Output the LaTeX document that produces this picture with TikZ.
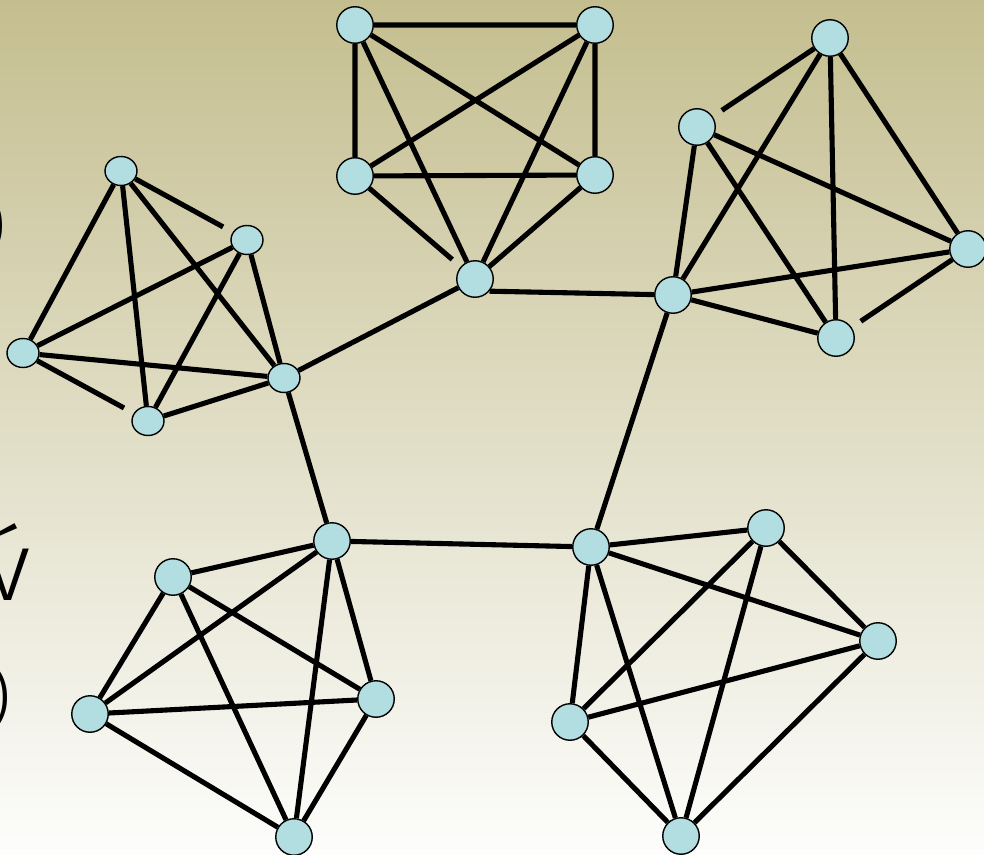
\documentclass[tikz,border=0pt]{standalone}
\usepackage{fontspec}
\usepackage{tikz}
\usetikzlibrary{shapes.geometric, positioning, calc}

\newfontfamily\scrapfont{Fira Sans}[UprightFont=* Light]

\definecolor{nodeblue}{RGB}{178,222,226}
\definecolor{bgtop}{RGB}{196,190,143}
\definecolor{bgmid}{RGB}{228,225,205}
\definecolor{bgbot}{RGB}{253,253,252}

\begin{document}
\begin{tikzpicture}[
    x=0.02cm, y=-0.02cm,
    vertex/.style={circle, draw, line width=0.8pt, fill=nodeblue, minimum size=0.73cm, inner sep=0pt},
    smallvertex/.style={vertex, ellipse, minimum width=0.64cm, minimum height=0.58cm},
    link/.style={line width=2.9pt},
    gap/.style={link, shorten >=0.22cm},
    scrap/.style={anchor=east, inner sep=0pt, font=\scrapfont\fontsize{40}{40}\selectfont}
  ]
    \useasboundingbox (0,0) rectangle (984,855);
    \shade[top color=bgtop, middle color=bgmid, bottom color=bgbot] (0,0) rectangle (984,855);

    % text cut off at the left edge
    \begin{scope}
      \clip (0,0) rectangle (984,855);
      \node[scrap] (cut1) at (7,226) {)};
      \node[scrap, anchor=south east, font=\scrapfont\fontsize{56}{56}\selectfont] (cut2) at (31,601) {\'v};
      \node[scrap] (cut3) at (12,698) {)};
    \end{scope}

    % top group
    \node[vertex] (t1) at (355,25) {};
    \node[vertex] (t2) at (595,25) {};
    \node[vertex] (t3) at (355,176) {};
    \node[vertex] (t4) at (595,175) {};
    \node[vertex] (t5) at (475,279) {};

    % right group
    \node[vertex] (r1) at (830,38) {};
    \node[vertex] (r2) at (697,127) {};
    \node[vertex] (r3) at (968,249) {};
    \node[vertex] (r4) at (673,295) {};
    \node[vertex] (r5) at (836,338) {};

    % left group
    \node[smallvertex] (l1) at (121,171) {};
    \node[smallvertex] (l2) at (247,240) {};
    \node[smallvertex] (l3) at (23,353) {};
    \node[smallvertex] (l4) at (148,421) {};
    \node[smallvertex] (l5) at (284,378) {};

    % bottom left group
    \node[vertex] (b1) at (332,541) {};
    \node[vertex] (b2) at (173,577) {};
    \node[vertex] (b3) at (90,714) {};
    \node[vertex] (b4) at (376,699) {};
    \node[vertex] (b5) at (294,837) {};

    % bottom right group
    \node[vertex] (c1) at (591,547) {};
    \node[vertex] (c2) at (766,528) {};
    \node[vertex] (c3) at (878,641) {};
    \node[vertex] (c4) at (570,722) {};
    \node[vertex] (c5) at (681,836) {};

    \draw[link] (t1) -- (t2) (t1) -- (t3) (t1) -- (t4) (t1) -- (t5) (t2) -- (t3)
                (t2) -- (t4) (t2) -- (t5) (t3) -- (t4) (t4) -- (t5);
    \draw[gap] (t3) -- (t5);
    \draw[link] (r1) -- (r3) (r1) -- (r4) (r1) -- (r5) (r2) -- (r3)
                (r2) -- (r4) (r2) -- (r5) (r3) -- (r4) (r4) -- (r5);
    \draw[gap] (r1) -- (r2);
    \draw[gap] (r3) -- (r5);
    \draw[link] (l1) -- (l3) (l1) -- (l4) (l1) -- (l5) (l2) -- (l3)
                (l2) -- (l4) (l2) -- (l5) (l3) -- (l5) (l4) -- (l5);
    \draw[gap] (l1) -- (l2);
    \draw[gap] (l3) -- (l4);
    \draw[link] (b1) -- (b2) (b1) -- (b3) (b1) -- (b4) (b1) -- (b5) (b2) -- (b3)
                (b2) -- (b4) (b2) -- (b5) (b3) -- (b4) (b3) -- (b5) (b4) -- (b5);
    \draw[link] (c1) -- (c2) (c1) -- (c3) (c1) -- (c4) (c1) -- (c5) (c2) -- (c3)
                (c2) -- (c4) (c2) -- (c5) (c3) -- (c4) (c3) -- (c5) (c4) -- (c5);

    % ring between the groups
    \draw[link] (t5.-40) -- (r4);
    \draw[link] (r4) -- (c1);
    \draw[link] (c1) -- (b1);
    \draw[link] (b1) -- (l5);
    \draw[link] (l5) -- (t5);
  \end{tikzpicture}
\end{document}
